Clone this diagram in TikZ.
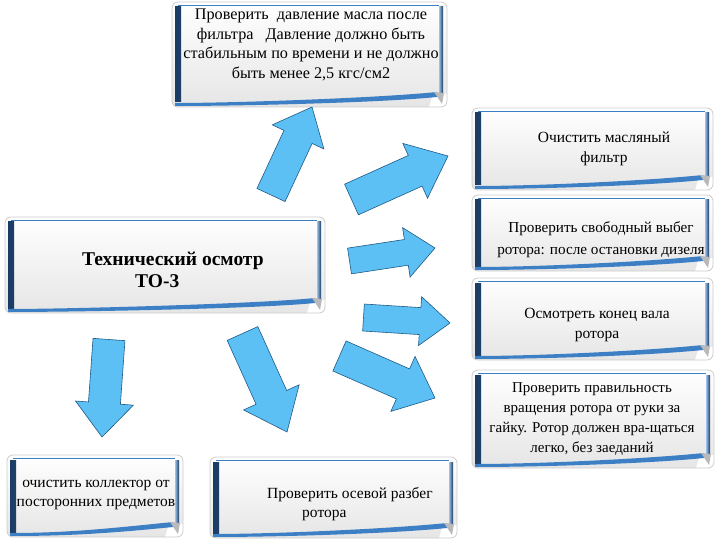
\documentclass[tikz,border=0pt]{standalone}
\usepackage{fontspec}
\setmainfont{Liberation Serif}
\usetikzlibrary{calc}
\definecolor{bandDark}{HTML}{183A63}
\definecolor{bandLight}{HTML}{9CC2EA}
\definecolor{bandMid}{HTML}{3C7FC4}
\definecolor{arrFill}{HTML}{5CC0F5}
\definecolor{arrLine}{HTML}{1E5A86}
\newcommand{\blockarrow}[5]{%
  \path ($(#2)!#5pt!(#1)$) coordinate (neck);
  \filldraw[barrow] ($(#1)!#3pt!90:(#2)$) -- ($(neck)!#3pt!90:(#2)$) -- ($(neck)!#4pt!90:(#2)$) -- (#2)
    -- ($(neck)!#4pt!-90:(#2)$) -- ($(neck)!#3pt!-90:(#2)$) -- ($(#1)!#3pt!-90:(#2)$) -- cycle;}
\begin{document}
\begin{tikzpicture}[x=1pt,y=-1pt,
  barrow/.style={fill=arrFill, draw=arrLine, line width=0.6pt, line join=miter},
  txt/.style={align=center, font=\fontsize{15.5}{19.5}\selectfont, inner sep=0pt},
  card/.style={rounded corners=6pt, draw=gray!40, line width=0.8pt, top color=white, bottom color=gray!20, inner sep=0pt,
    path picture={
      \shade[sharp corners, left color=bandDark, right color=bandLight]
        ([xshift=3pt,yshift=-5pt]path picture bounding box.north west) rectangle ([xshift=9pt,yshift=5pt]path picture bounding box.south west);
      \draw[sharp corners, bandMid, line width=1.2pt]
        ([xshift=6pt,yshift=-3.5pt]path picture bounding box.north west) -- ([xshift=-8pt,yshift=-3.5pt]path picture bounding box.north east);
      \shade[sharp corners, left color=bandLight, right color=bandDark]
        ([xshift=-8pt,yshift=-5pt]path picture bounding box.north east) rectangle ([xshift=-4pt,yshift=14pt]path picture bounding box.south east);
      \fill[sharp corners, white]
        ([xshift=-18pt,yshift=0pt]path picture bounding box.south east) -- ([xshift=-14pt,yshift=13pt]path picture bounding box.south east)
        -- ([xshift=0pt,yshift=13pt]path picture bounding box.south east) -- (path picture bounding box.south east) -- cycle;
      \fill[sharp corners, bandMid]
        ([xshift=3pt,yshift=4pt]path picture bounding box.south west)
        .. controls +(60pt,0pt) and +(-60pt,-6pt) .. ([xshift=-10pt,yshift=15pt]path picture bounding box.south east)
        -- ([xshift=-10pt,yshift=10pt]path picture bounding box.south east)
        .. controls +(-60pt,-6pt) and +(60pt,0pt) .. ([xshift=3pt,yshift=1pt]path picture bounding box.south west) -- cycle;
      \fill[sharp corners, gray!55]
        ([xshift=-13pt,yshift=15pt]path picture bounding box.south east) -- ([xshift=-3pt,yshift=14pt]path picture bounding box.south east)
        -- ([xshift=-5pt,yshift=3pt]path picture bounding box.south east) -- cycle;
    }}]
\useasboundingbox (0,0) rectangle (720,540);

% cards
\node[card, minimum width=275pt, minimum height=105pt] (top) at (309.5,54.5) {};
\node[card, minimum width=241pt, minimum height=82pt] (r1) at (592.5,149) {};
\node[card, minimum width=241pt, minimum height=76pt] (r2) at (592.5,233) {};
\node[card, minimum width=241pt, minimum height=82pt] (r3) at (592.5,319) {};
\node[card, minimum width=242pt, minimum height=98pt] (r4) at (593,419) {};
\node[card, minimum width=320pt, minimum height=96pt] (main) at (165,265) {};
\node[card, minimum width=176pt, minimum height=82pt] (bl) at (95,496) {};
\node[card, minimum width=247pt, minimum height=81pt] (bm) at (333.5,497.5) {};

% texts
\node[txt, font=\fontsize{16.2}{19.5}\selectfont] (top-t) at (311,45) {Проверить\ \ давление масла после\\фильтра\ \ \ Давление должно быть\\стабильным по времени и не должно\\быть менее 2,5 кгс/см2};
\node[txt] (r1-t) at (604,149) {Очистить масляный\\фильтр};
\node[txt, font=\fontsize{15.2}{22}\selectfont] (r2-t) at (601,240) {Проверить свободный выбег\\ротора: после остановки дизеля};
\node[txt] (r3-t) at (597,325) {Осмотреть конец вала\\ротора};
\node[txt, font=\fontsize{15}{19.7}\selectfont] (r4-t) at (592,419) {Проверить правильность\\вращения ротора от руки за\\гайку. Ротор должен вра-щаться\\легко, без заеданий};
\node[txt, align=left, anchor=west, font=\fontsize{19.5}{22}\selectfont\bfseries] (main-t) at (82,270) {Технический осмотр\\\hspace*{53pt}ТО-3};
\node[txt] (bl-t) at (96,495) {очистить коллектор от\\посторонних предметов};
\node[txt, align=left, anchor=west] (bm-t) at (267,504) {Проверить осевой разбег\\\hspace*{35pt}ротора};

% arrows
\coordinate (a1t) at (271,195);   \coordinate (a1h) at (312,107);
\coordinate (a2t) at (351.5,199.5); \coordinate (a2h) at (448,156);
\coordinate (a3t) at (349.5,261); \coordinate (a3h) at (435,248);
\coordinate (a4t) at (363.5,317.5); \coordinate (a4h) at (450,323);
\coordinate (a5t) at (339.5,356); \coordinate (a5h) at (435,398);
\coordinate (a6t) at (109,339.5); \coordinate (a6h) at (102,437);
\coordinate (a7t) at (242.5,333.5); \coordinate (a7h) at (287,432);
\blockarrow{a1t}{a1h}{15.5}{28.5}{33}
\blockarrow{a2t}{a2h}{16.8}{30}{36}
\blockarrow{a3t}{a3h}{13}{25}{29}
\blockarrow{a4t}{a4h}{13.5}{24.5}{30}
\blockarrow{a5t}{a5h}{16.4}{30}{35}
\blockarrow{a6t}{a6h}{16}{29}{34}
\blockarrow{a7t}{a7h}{16.8}{30.5}{38}
\end{tikzpicture}
\end{document}
